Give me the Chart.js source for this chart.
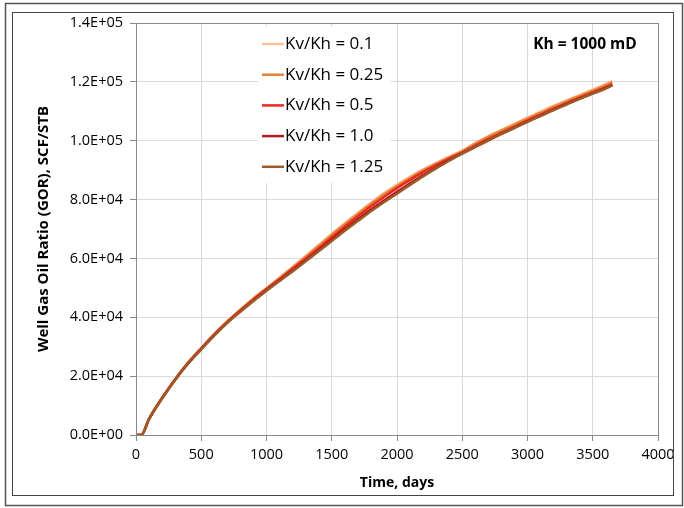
<!DOCTYPE html>
<html>
<head>
<meta charset="utf-8">
<script src="https://cdn.jsdelivr.net/npm/chart.js@4.4.1/dist/chart.umd.min.js"></script>
<style>
  html, body { margin: 0; padding: 0; background: #ffffff; }
  #wrap { position: relative; width: 684px; height: 508px; }
  canvas { display: block; }
</style>
</head>
<body>
<div id="wrap"><canvas id="c" width="684" height="508"></canvas></div>
<script>
// ---- Data ----
const days = [0, 40, 100, 200, 300, 400, 500, 600, 700, 800, 900, 1000, 1100, 1200, 1300, 1400, 1500, 1600, 1700, 1800, 1900, 2000, 2100, 2200, 2300, 2400, 2500, 2600, 2700, 2800, 2900, 3000, 3100, 3200, 3300, 3400, 3500, 3600, 3650];

const gorKv010 = [0, 0, 5600, 12700, 19000, 24700, 29600, 34400, 38700, 42700, 46500, 50000, 53500, 57100, 60800, 64600, 68400, 72000, 75500, 78900, 82200, 85100, 87800, 90300, 92500, 94600, 96600, 99200, 101600, 103700, 105800, 107900, 109900, 111900, 113800, 115600, 117400, 119300, 120300];
const gorKv025 = [0, 0, 5500, 12600, 18900, 24600, 29500, 34300, 38600, 42500, 46300, 49800, 53300, 56900, 60500, 64200, 68000, 71600, 75100, 78500, 81700, 84600, 87300, 89900, 92200, 94300, 96400, 99000, 101300, 103400, 105400, 107500, 109500, 111500, 113400, 115200, 117000, 118900, 119900];
const gorKv050 = [0, 0, 5500, 12600, 18900, 24500, 29400, 34100, 38400, 42300, 46000, 49500, 52900, 56400, 59900, 63500, 67200, 70800, 74300, 77700, 80900, 83900, 86700, 89300, 91700, 93900, 96000, 98300, 100600, 102700, 104800, 106900, 108900, 110900, 112800, 114600, 116400, 118200, 119200];
const gorKv100 = [0, 0, 5400, 12500, 18800, 24400, 29200, 33900, 38200, 42000, 45700, 49200, 52500, 55900, 59300, 62800, 66400, 69900, 73300, 76600, 79700, 82600, 85500, 88300, 90900, 93400, 95700, 97900, 100100, 102300, 104400, 106500, 108500, 110500, 112500, 114300, 116100, 117900, 118900];
const gorKv125 = [0, 0, 5400, 12400, 18700, 24300, 29100, 33800, 38100, 41900, 45500, 49000, 52300, 55600, 59000, 62400, 65900, 69400, 72700, 76000, 79100, 82000, 85000, 87900, 90600, 93200, 95600, 97900, 100100, 102300, 104300, 106400, 108400, 110400, 112300, 114200, 116000, 117700, 118800];

const seriesLabels = ['Kv/Kh = 0.1', 'Kv/Kh = 0.25', 'Kv/Kh = 0.5', 'Kv/Kh = 1.0', 'Kv/Kh = 1.25'];
const seriesColors = ['#F7C19A', '#E5823A', '#E82A1E', '#B3191B', '#9B5B27'];
const yTickLabels = ['0.0E+00', '2.0E+04', '4.0E+04', '6.0E+04', '8.0E+04', '1.0E+05', '1.2E+05', '1.4E+05'];
const xTickLabels = ['0', '500', '1000', '1500', '2000', '2500', '3000', '3500', '4000'];
const annotationText = 'Kh = 1000 mD';
const xTitle = 'Time, days';
const yTitle = 'Well Gas Oil Ratio (GOR), SCF/STB';

const allSeries = [gorKv010, gorKv025, gorKv050, gorKv100, gorKv125];

const FONT = "'Open Sans', 'Liberation Sans', sans-serif";

const datasets = allSeries.map((vals, i) => ({
  label: seriesLabels[i],
  data: days.map((d, j) => ({ x: d, y: vals[j] })),
  borderColor: seriesColors[i],
  backgroundColor: seriesColors[i],
  borderWidth: 2.5,
  pointRadius: 0,
  fill: false,
  cubicInterpolationMode: 'monotone',
  order: allSeries.length - i
}));

const decorPlugin = {
  id: 'decor',
  beforeDraw(chart) {
    const ctx = chart.ctx;
    ctx.save();
    ctx.fillStyle = '#ffffff';
    ctx.fillRect(0, 0, chart.width, chart.height);
    ctx.restore();
  },
  afterDraw(chart) {
    const ctx = chart.ctx;
    const a = chart.chartArea;
    ctx.save();
    // plot frame
    ctx.strokeStyle = '#8a8a8a';
    ctx.lineWidth = 1;
    ctx.strokeRect(Math.round(a.left) + 0.5, Math.round(a.top) + 0.5, Math.round(a.right - a.left), Math.round(a.bottom - a.top));
    // legend box
    ctx.fillStyle = '#ffffff';
    ctx.fillRect(258, 27, 133, 156);
    const items = chart.data.datasets;
    ctx.font = '17px ' + FONT;
    ctx.textBaseline = 'middle';
    ctx.textAlign = 'left';
    items.forEach((ds, i) => {
      const y = 44 + i * 30.7;
      ctx.strokeStyle = ds.borderColor;
      ctx.lineWidth = 2.5;
      ctx.beginPath();
      ctx.moveTo(262, y);
      ctx.lineTo(284, y);
      ctx.stroke();
      ctx.fillStyle = '#000000';
      ctx.fillText(ds.label, 285, y);
    });
    // annotation
    ctx.font = 'bold 15.5px ' + FONT;
    ctx.textAlign = 'center';
    ctx.fillStyle = '#000000';
    ctx.fillText(annotationText, 585, 45);
    // outer borders
    ctx.strokeStyle = '#444444';
    ctx.lineWidth = 1;
    ctx.strokeRect(12.5, 12.5, 661, 483);
    ctx.strokeStyle = '#555555';
    ctx.lineWidth = 1.5;
    ctx.strokeRect(5.5, 3.5, 677, 502);
    ctx.restore();
  }
};

new Chart(document.getElementById('c'), {
  type: 'line',
  data: { datasets },
  options: {
    responsive: false,
    devicePixelRatio: 1,
    animation: false,
    layout: { padding: { left: 12, top: 23, right: 26, bottom: 12 } },
    plugins: {
      legend: { display: false },
      tooltip: { enabled: false }
    },
    scales: {
      x: {
        type: 'linear',
        min: 0,
        max: 4000,
        afterFit(scale) { scale.height = 61; },
        ticks: {
          stepSize: 500,
          color: '#000000',
          font: { family: FONT, size: 14.5 },
          padding: 5,
          maxRotation: 0,
          callback: (v, idx) => xTickLabels[idx]
        },
        grid: { color: '#D9D9D9', tickLength: 6, tickColor: '#8a8a8a' },
        border: { color: '#8a8a8a' },
        title: {
          display: true,
          text: xTitle,
          color: '#000000',
          font: { family: FONT, size: 14, weight: 'bold' },
          padding: { top: 0, bottom: 5 }
        }
      },
      y: {
        type: 'linear',
        min: 0,
        max: 140000,
        afterFit(scale) { scale.width = 124; },
        ticks: {
          stepSize: 20000,
          color: '#000000',
          font: { family: FONT, size: 14.5 },
          padding: 7,
          callback: (v, idx) => yTickLabels[idx]
        },
        grid: { color: '#D9D9D9', tickLength: 6, tickColor: '#8a8a8a' },
        border: { color: '#8a8a8a' },
        title: {
          display: true,
          text: yTitle,
          color: '#000000',
          font: { family: FONT, size: 15, weight: 'bold' },
          padding: { top: 23, bottom: 0 }
        }
      }
    }
  },
  plugins: [decorPlugin]
});
</script>
</body>
</html>
